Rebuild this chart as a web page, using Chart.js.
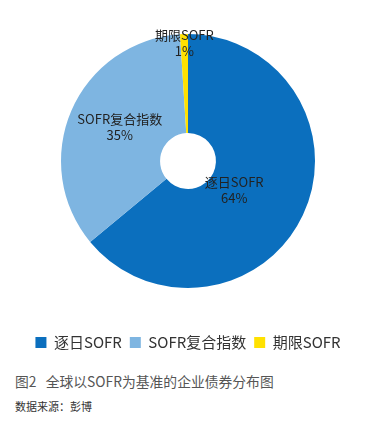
<!DOCTYPE html>
<html>
<head>
<meta charset="utf-8">
<script src="https://cdn.jsdelivr.net/npm/chart.js@4.4.1/dist/chart.umd.min.js"></script>
<style>
  html, body { margin: 0; padding: 0; background: #fff; width: 374px; height: 429px; overflow: hidden; position: relative; }
  #wrap { position: absolute; left: 0; top: -5px; width: 374px; height: 365px; }
  .cap1 { position: absolute; left: 15px; top: 371px; font: 13.8px "Noto Sans CJK SC", sans-serif; color: #555; white-space: nowrap; }
  .cap2 { position: absolute; left: 15px; top: 398px; font: 11px "Noto Sans CJK SC", sans-serif; color: #333; white-space: nowrap; }
</style>
</head>
<body>
<div id="wrap"><canvas id="c"></canvas></div>
<div class="cap1">图2&nbsp;&nbsp;&nbsp;全球以SOFR为基准的企业债券分布图</div>
<div class="cap2">数据来源：彭博</div>
<script>
const categories = ['逐日SOFR', 'SOFR复合指数', '期限SOFR'];
const shares = [64, 35, 1];
const colors = ['#0B6FBE', '#7EB5E1', '#FFE100'];

const FONT = '"Noto Sans CJK SC", sans-serif';

const sliceLabels = {
  id: 'sliceLabels',
  afterDatasetsDraw(chart, args, opts) {
    const ctx = chart.ctx;
    const meta = chart.getDatasetMeta(0);
    const data = chart.data.datasets[0].data;
    const total = data.reduce((a, b) => a + b, 0);
    ctx.save();
    ctx.fillStyle = opts.color;
    ctx.font = opts.size + 'px ' + FONT;
    ctx.textAlign = 'center';
    ctx.textBaseline = 'middle';
    meta.data.forEach((arc, i) => {
      const p = arc.getProps(['x', 'y', 'startAngle', 'endAngle', 'outerRadius'], true);
      const mid = (p.startAngle + p.endAngle) / 2 + opts.angleOffset[i] * Math.PI / 180;
      const r = p.outerRadius * opts.radiusFrac[i];
      const cx = p.x + Math.cos(mid) * r;
      const cy = p.y + Math.sin(mid) * r;
      const pct = Math.round(data[i] / total * 100) + '%';
      ctx.fillText(chart.data.labels[i], cx, cy - opts.lineGap / 2);
      ctx.fillText(pct, cx, cy + opts.lineGap / 2);
    });
    ctx.restore();
  }
};

new Chart(document.getElementById('c'), {
  type: 'doughnut',
  data: {
    labels: categories,
    datasets: [{
      data: shares,
      backgroundColor: colors,
      borderWidth: 0,
      radius: 127,
      cutout: '22%'
    }]
  },
  options: {
    responsive: true,
    maintainAspectRatio: false,
    animation: false,
    layout: { padding: { left: 2, right: 0, top: 0, bottom: 0 } },
    plugins: {
      legend: {
        position: 'bottom',
        labels: {
          boxWidth: 11,
          boxHeight: 11,
          padding: 8,
          color: '#333',
          font: { size: 15, family: FONT }
        }
      },
      tooltip: { enabled: false },
      sliceLabels: {
        color: '#222',
        size: 13,
        lineGap: 16,
        radiusFrac: [0.43, 0.6, 0.93],
        angleOffset: [7, 3, 0]
      }
    }
  },
  plugins: [sliceLabels]
});
</script>
</body>
</html>
